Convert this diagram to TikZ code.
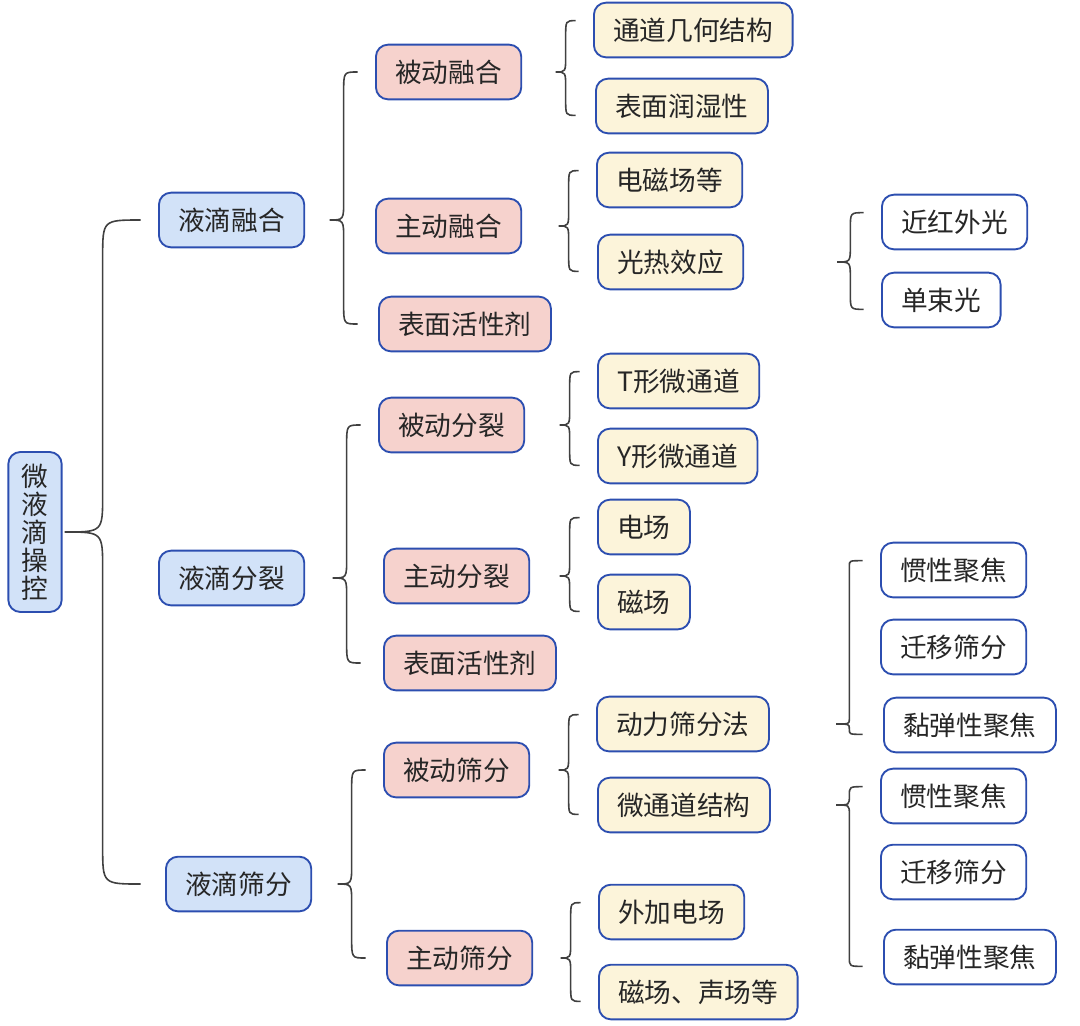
\documentclass[tikz,border=0pt]{standalone}
\usepackage{fontspec}
\setmainfont{Noto Sans CJK SC}
\usetikzlibrary{calc}

\definecolor{edgeblue}{RGB}{44,78,176}
\definecolor{groupfill}{RGB}{210,226,248}
\definecolor{kindfill}{RGB}{246,210,205}
\definecolor{wayfill}{RGB}{252,244,218}
\definecolor{bracegray}{RGB}{64,64,64}

\tikzset{
  box/.style={draw=edgeblue, line width=1.4pt, rounded corners=9pt, text=black!85,
    minimum height=41pt, inner xsep=14.5pt, anchor=west, font=\fontsize{20}{22}\selectfont},
  rootbox/.style={box, fill=groupfill, anchor=center, align=center, text width=20pt,
    inner xsep=10pt, minimum height=120pt, font=\fontsize{20}{21}\selectfont},
  groupbox/.style={box, fill=groupfill},
  kindbox/.style={box, fill=kindfill},
  waybox/.style={box, fill=wayfill},
  leafbox/.style={box, fill=white},
  brc/.style={draw=bracegray, line width=1.2pt}
}

% parent, first child, last child, width, radius, overshoot
\newcommand{\brc}[6]{%
  \draw[brc] let \p1=(#2.west), \p2=(#3.west), \p3=(#1.east),
    \n1={min(\x1,\x2)-13pt},
    \n2={\n1-#4},
    \n3={\n1-#4/2},
    \n4={\y1+#6},
    \n5={\y2-#6},
    \n6={min(#5,(\n4-\y3)/2,(\y3-\n5)/2)}
  in (\n1,\n4) .. controls (\n3,\n4) .. (\n3,\n4-\n6)
     -- (\n3,\y3+\n6) .. controls (\n3,\y3) .. (\n2,\y3)
     .. controls (\n3,\y3) .. (\n3,\y3-\n6)
     -- (\n3,\n5+\n6) .. controls (\n3,\n5) .. (\n1,\n5);}

\begin{document}
\begin{tikzpicture}[x=0.75pt, y=-0.75pt]
  \useasboundingbox (0,0) rectangle (1080,1025);

  \node[rootbox] (root) at (35,532) {微\\液\\滴\\操\\控};

  \node[groupbox] (merge) at (158,220) {液滴融合};
  \node[groupbox] (split) at (158,578) {液滴分裂};
  \node[groupbox] (sort)  at (165,884) {液滴筛分};

  \node[kindbox] (pasMerge)  at (375,72)  {被动融合};
  \node[kindbox] (actMerge)  at (375,226) {主动融合};
  \node[kindbox] (surfMerge) at (378,324) {表面活性剂};
  \node[kindbox] (pasSplit)  at (378,425) {被动分裂};
  \node[kindbox] (actSplit)  at (383,576) {主动分裂};
  \node[kindbox] (surfSplit) at (383,663) {表面活性剂};
  \node[kindbox] (pasSort)   at (383,770) {被动筛分};
  \node[kindbox] (actSort)   at (386,958) {主动筛分};

  \foreach \name/\x/\y/\txt in {geom/593/30/通道几何结构, wet/595/106/表面润湿性,
      emf/596/180/电磁场等, photo/597/262/光热效应, tchan/597/381/T形微通道,
      ychan/597/456/Y形微通道, efield/597/527/电场, mfield/597/602/磁场,
      dyn/596/724/动力筛分法, chan/597/805/微通道结构, extE/598/912/外加电场,
      magAc/598/992/磁场、声场等}{
    \node[waybox] (\name) at (\x,\y) {\txt};
  }

  \foreach \name/\x/\y/\txt in {nir/881/222/近红外光, single/881/300/单束光,
      inertA/880/570/惯性聚焦, migA/880/647/迁移筛分, viscA/883/725/黏弹性聚焦,
      inertB/880/796/惯性聚焦, migB/880/872/迁移筛分, viscB/883/957/黏弹性聚焦}{
    \node[leafbox] (\name) at (\x,\y) {\txt};
  }

  \brc{root}{merge}{sort}{57pt}{28pt}{0pt}

  \brc{merge}{pasMerge}{surfMerge}{21pt}{15pt}{0pt}
  \brc{split}{pasSplit}{surfSplit}{21pt}{15pt}{0pt}
  \brc{sort}{pasSort}{actSort}{21pt}{15pt}{0pt}

  \brc{pasMerge}{geom}{wet}{15pt}{12pt}{7pt}
  \brc{actMerge}{emf}{photo}{15pt}{12pt}{7pt}
  \brc{pasSplit}{tchan}{ychan}{15pt}{12pt}{7pt}
  \brc{actSplit}{efield}{mfield}{15pt}{12pt}{7pt}
  \brc{pasSort}{dyn}{chan}{15pt}{12pt}{7pt}
  \brc{actSort}{extE}{magAc}{15pt}{12pt}{7pt}

  \brc{photo}{nir}{single}{20pt}{12pt}{7pt}
  \brc{dyn}{inertA}{viscA}{20pt}{12pt}{7pt}
  \brc{chan}{inertB}{viscB}{20pt}{12pt}{7pt}
\end{tikzpicture}
\end{document}
